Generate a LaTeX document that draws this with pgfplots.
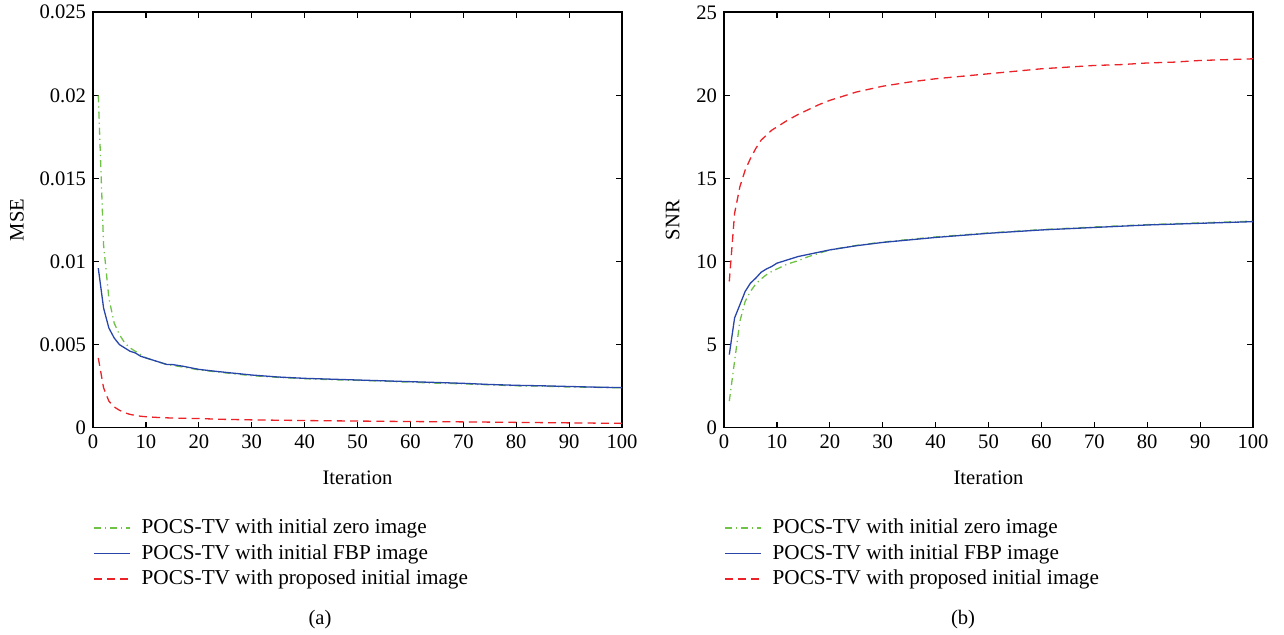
\documentclass[border=0pt]{standalone}
\usepackage{pgfplots}
\pgfplotsset{compat=1.18}
\usepackage{fontspec}
\setmainfont{Liberation Serif}

\definecolor{czero}{RGB}{110,195,70}
\definecolor{cfbp}{RGB}{40,70,170}
\definecolor{cprop}{RGB}{235,35,40}

% MSE (a)
\pgfplotstableread{
it val
1 0.0200
2 0.0110
3 0.0078
4 0.0063
5 0.0056
6 0.0051
7 0.0048
8 0.0046
9 0.0044
10 0.0042
12 0.0040
14 0.0038
17 0.00365
20 0.00348
25 0.00330
30 0.00313
35 0.00303
40 0.00295
45 0.00289
50 0.00285
55 0.00280
60 0.00274
65 0.00268
70 0.00264
75 0.00258
80 0.00252
85 0.00250
90 0.00245
95 0.00243
100 0.00240
}\msezero
\pgfplotstableread{
it val
1 0.0096
2 0.0072
3 0.0060
4 0.0054
5 0.0050
6 0.0048
7 0.0046
8 0.0045
9 0.0043
10 0.0042
11 0.0041
12 0.0040
13 0.0039
14 0.0038
15 0.0038
17 0.0037
20 0.00351
23 0.00340
26 0.00330
30 0.00317
35 0.00305
40 0.00297
45 0.00292
50 0.00287
55 0.00282
60 0.00277
65 0.00272
70 0.00267
75 0.00260
80 0.00255
85 0.00252
90 0.00248
95 0.00244
100 0.00241
}\msefbp
\pgfplotstableread{
it val
1 0.0042
2 0.0024
3 0.0016
4 0.00125
5 0.00105
6 0.00090
7 0.00080
8 0.00074
9 0.00069
10 0.00066
12 0.00062
15 0.00058
20 0.00055
25 0.00050
30 0.00047
40 0.00043
50 0.00040
60 0.00037
70 0.00035
80 0.00032
90 0.00029
100 0.00026
}\mseprop

% SNR (b)
\pgfplotstableread{
it val
1 1.6
2 4.0
3 6.4
4 7.6
5 8.2
6 8.65
7 8.95
8 9.2
9 9.4
10 9.55
12 9.85
14 10.05
16 10.3
18 10.5
20 10.7
25 10.97
30 11.17
35 11.33
40 11.48
50 11.72
60 11.92
70 12.08
80 12.22
90 12.33
100 12.43
}\snrzero
\pgfplotstableread{
it val
1 4.4
2 6.6
3 7.4
4 8.2
5 8.7
6 9.0
7 9.35
8 9.55
9 9.7
10 9.9
12 10.1
14 10.3
17 10.5
20 10.7
25 10.95
30 11.15
35 11.3
40 11.45
50 11.7
60 11.9
70 12.05
80 12.2
90 12.3
100 12.4
}\snrfbp
\pgfplotstableread{
it val
1 8.8
2 12.9
3 14.5
4 15.5
5 16.2
6 16.8
7 17.3
8 17.6
9 17.9
10 18.1
12 18.5
14 18.85
16 19.15
18 19.45
20 19.7
25 20.2
30 20.55
35 20.8
40 21.0
45 21.15
50 21.3
55 21.45
60 21.6
65 21.7
70 21.8
75 21.85
80 21.95
85 22.0
90 22.1
95 22.15
100 22.2
}\snrprop

\pgfplotsset{
  panel/.style={
    scale only axis, width=264.5pt, height=207.7pt,
    xmin=0, xmax=100, xtick={0,10,...,100},
    tick align=inside, major tick length=3pt,
    axis line style={line width=0.8pt},
    tick style={line width=0.6pt, black},
    /pgf/number format/assume math mode=true,
    ticklabel style={font=\fontsize{10.3}{12}\selectfont},
    yticklabel style={inner ysep=0pt},
    label style={font=\fontsize{10.3}{12}\selectfont},
    xlabel={Iteration},
    xlabel style={at={(axis description cs:0.5,-0.12)}, anchor=center},
    legend image code/.code={\draw[#1] (0pt,0pt) -- (18pt,0pt);},
    legend style={draw=none, fill=none, anchor=north west,
      font=\fontsize{10.6}{12}\selectfont, row sep=-0.1pt, column sep=3.5pt,
      inner xsep=0pt, cells={anchor=west}},
    legend cell align=left,
  },
  zero/.style={color=czero, line width=0.65pt, dash pattern=on 3.5pt off 2pt on 0.6pt off 2pt},
  fbp/.style={color=cfbp, line width=0.65pt},
  prop/.style={color=cprop, line width=0.65pt, dash pattern=on 4pt off 2.6pt},
}

\begin{document}
\begin{tikzpicture}
\useasboundingbox (0,0) rectangle (642pt,317.5pt);

\begin{axis}[panel, at={(46.5pt,103.65pt)}, anchor=south west,
    ymin=0, ymax=0.025,
    ytick={0,0.005,0.01,0.015,0.02,0.025},
    yticklabels={0,0.005,0.01,0.015,0.02,0.025},
    ylabel={MSE},
    ylabel style={at={(axis description cs:-0.144,0.5)}, anchor=center},
    legend style={at={(axis description cs:0.0,-0.2)}},
]
\addplot[zero] table[x=it, y=val] {\msezero};
\addlegendentry{POCS-TV with initial zero image}
\addplot[fbp] table[x=it, y=val] {\msefbp};
\addlegendentry{POCS-TV with initial FBP image}
\addplot[prop] table[x=it, y=val] {\mseprop};
\addlegendentry{POCS-TV with proposed initial image}
\end{axis}

\begin{axis}[panel, at={(362pt,103.65pt)}, anchor=south west,
    ymin=0, ymax=25, ytick={0,5,...,25},
    ylabel={SNR},
    ylabel style={at={(axis description cs:-0.097,0.5)}, anchor=center},
    legend style={at={(axis description cs:0.0,-0.2)}},
]
\addplot[zero] table[x=it, y=val] {\snrzero};
\addlegendentry{POCS-TV with initial zero image}
\addplot[fbp] table[x=it, y=val] {\snrfbp};
\addlegendentry{POCS-TV with initial FBP image}
\addplot[prop] table[x=it, y=val] {\snrprop};
\addlegendentry{POCS-TV with proposed initial image}
\end{axis}

\node[font=\fontsize{10.3}{12}\selectfont] at (160pt,7.5pt) {(a)};
\node[font=\fontsize{10.3}{12}\selectfont] at (481.5pt,7.5pt) {(b)};
\end{tikzpicture}
\end{document}
